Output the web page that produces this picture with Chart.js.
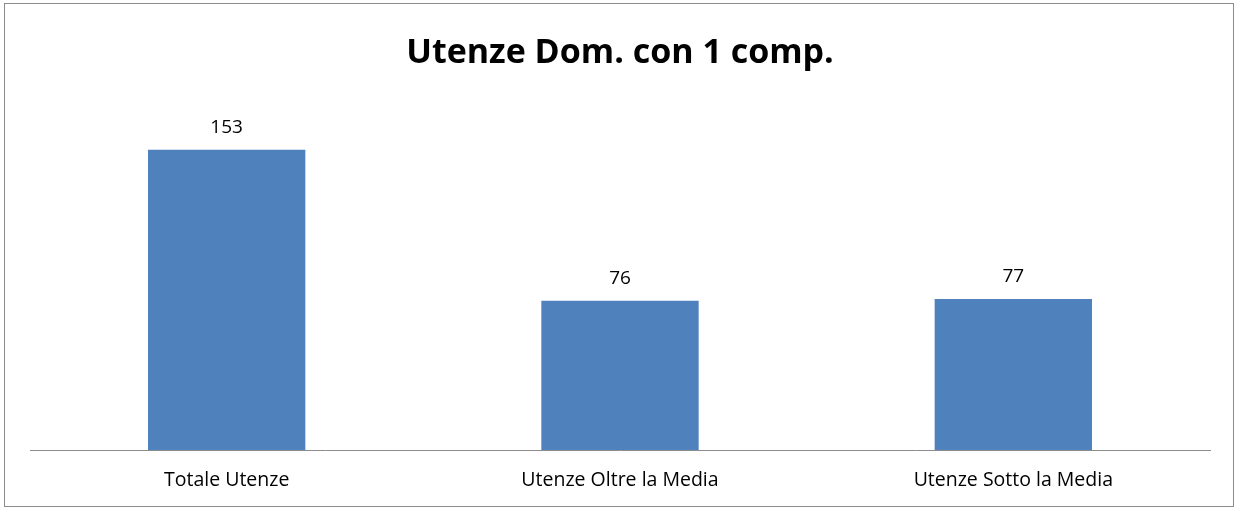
<!DOCTYPE html>
<html><head><meta charset="utf-8">
<script src="https://cdn.jsdelivr.net/npm/chart.js@4/dist/chart.umd.min.js"></script>
<style>
html,body{margin:0;padding:0;background:#fff;}
#wrap{position:absolute;left:0;top:0;width:1234px;height:507px;}
#frame{position:absolute;left:4px;top:3px;width:1228px;height:502px;border:1px solid #8c8c8c;pointer-events:none;}
</style></head>
<body>
<div id="wrap"><canvas id="c" width="1234" height="507"></canvas></div>
<div id="frame"></div>
<script>
const titleText = "Utenze Dom. con 1 comp.";
const categories = ["Totale Utenze", "Utenze Oltre la Media", "Utenze Sotto la Media"];
const values = [153, 76, 77];
const yMax = 180;

const FONT = "'Open Sans', sans-serif";

const valueLabels = {
  id: 'valueLabels',
  afterDatasetsDraw(chart) {
    const ctx = chart.ctx;
    const meta = chart.getDatasetMeta(0);
    ctx.save();
    ctx.font = "19px " + FONT;
    ctx.fillStyle = "#000";
    ctx.textAlign = "center";
    ctx.textBaseline = "middle";
    meta.data.forEach((bar, i) => {
      ctx.fillText(String(chart.data.datasets[0].data[i]), bar.x, bar.y - 22);
    });
    ctx.restore();
  }
};

new Chart(document.getElementById('c'), {
  type: 'bar',
  data: {
    labels: categories,
    datasets: [{
      data: values,
      backgroundColor: '#4F81BD',
      borderWidth: 0,
      categoryPercentage: 1.0,
      barPercentage: 0.4
    }]
  },
  options: {
    responsive: false,
    animation: false,
    layout: { padding: { left: 30, right: 24, top: 0, bottom: 0 } },
    plugins: {
      legend: { display: false },
      tooltip: { enabled: false },
      title: {
        display: true,
        text: titleText,
        color: '#000',
        font: { family: FONT, size: 34, weight: 'bold', lineHeight: 1.2 },
        padding: { top: 33, bottom: 23 }
      }
    },
    scales: {
      x: {
        grid: { display: false, drawTicks: false },
        border: { display: true, color: '#8c8c8c', width: 1 },
        ticks: { color: '#000', font: { family: FONT, size: 19.5 }, padding: 19 },
        afterFit(scale) { scale.height = 57; }
      },
      y: {
        display: false,
        min: 0,
        max: yMax
      }
    }
  },
  plugins: [valueLabels]
});
</script>
</body></html>
